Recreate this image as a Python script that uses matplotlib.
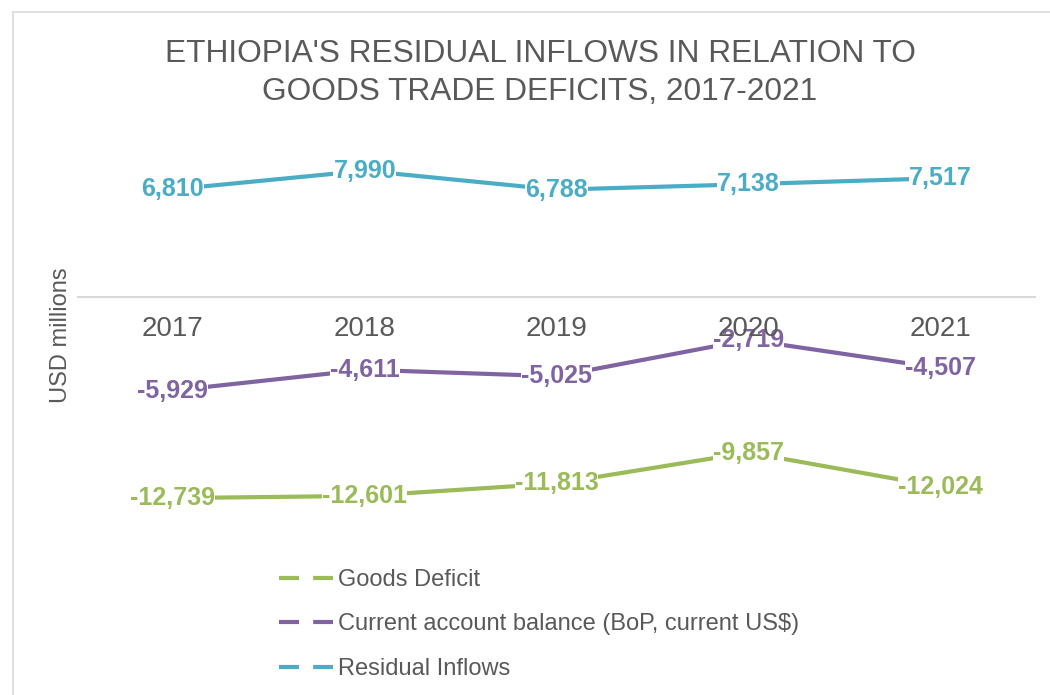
import matplotlib
matplotlib.use("Agg")
import matplotlib.pyplot as plt
import matplotlib.transforms as mtransforms
from matplotlib.lines import Line2D
from matplotlib.patches import Rectangle

plt.rcParams['font.family'] = ['Liberation Sans', 'DejaVu Sans']

years = ["2017", "2018", "2019", "2020", "2021"]
goods_deficit = [-12739, -12601, -11813, -9857, -12024]
current_account = [-5929, -4611, -5025, -2719, -4507]
residual_inflows = [6810, 7990, 6788, 7138, 7517]

series_names = ["Goods Deficit", "Current account balance (BoP, current US$)", "Residual Inflows"]
series_values = [goods_deficit, current_account, residual_inflows]
series_colors = ["#9BBB59", "#8064A2", "#4BACC6"]

TEXT = "#595959"
W, H = 1050, 695

fig = plt.figure(figsize=(W / 100, H / 100), dpi=100)

# chart border
fig.patches.append(Rectangle((13 / W, -0.1), 1.2, (H - 12) / H + 0.1,
                             transform=fig.transFigure, fill=False,
                             edgecolor="#D9D9D9", linewidth=1.2))

# title
fig.text(540 / W, 1 - 62 / H, "ETHIOPIA'S RESIDUAL INFLOWS IN RELATION TO",
         ha="center", va="baseline", fontsize=22.8, color=TEXT)
fig.text(540 / W, 1 - 100 / H, "GOODS TRADE DEFICITS, 2017-2021",
         ha="center", va="baseline", fontsize=22.8, color=TEXT)

left, right = 77, 1036
top, bottom = 139, 518
ax = fig.add_axes([left / W, 1 - bottom / H, (right - left) / W, (bottom - top) / H])
ax.set_xlim(-0.5, len(years) - 0.5)
ax.set_ylim(-14000, 10000)
for s in ax.spines.values():
    s.set_visible(False)
ax.set_yticks([])
x = list(range(len(years)))
ax.set_xticks([])

# category labels sit just under the zero line, drawn above the data labels
below_zero = mtransforms.offset_copy(ax.transData, fig=fig, x=0, y=-14, units="points")
for xi, yr in zip(x, years):
    ax.text(xi, 0, yr, ha="center", va="top", fontsize=20, color=TEXT,
            transform=below_zero, zorder=3)

ax.axhline(0, color="#D9D9D9", linewidth=1.5, zorder=1)

for vals, col in zip(series_values, series_colors):
    ax.plot(x, vals, color=col, linewidth=3, solid_capstyle="round", zorder=1.8)
    for xi, v in zip(x, vals):
        ax.text(xi, v, f"{v:,}", ha="center", va="center", fontsize=18,
                fontweight="bold", color=col, zorder=2,
                bbox=dict(boxstyle="square,pad=0.0", fc="white", ec="none"))

fig.text(61 / W, 1 - 335 / H, "USD millions", rotation=90, ha="center",
         va="center", fontsize=17, color=TEXT)

handles = [Line2D([0], [0], color=c, linewidth=3, linestyle=(0, (4.8, 3.4)),
                  dash_capstyle="butt") for c in series_colors]
leg = fig.legend(handles, series_names, loc="upper left",
                 bbox_to_anchor=(279 / W, 1 - 569 / H), frameon=False,
                 fontsize=17, handlelength=2.29, handletextpad=0.2,
                 labelspacing=0.95, borderpad=0, borderaxespad=0)
for t in leg.get_texts():
    t.set_color(TEXT)

fig.savefig("out.png", dpi=100)
